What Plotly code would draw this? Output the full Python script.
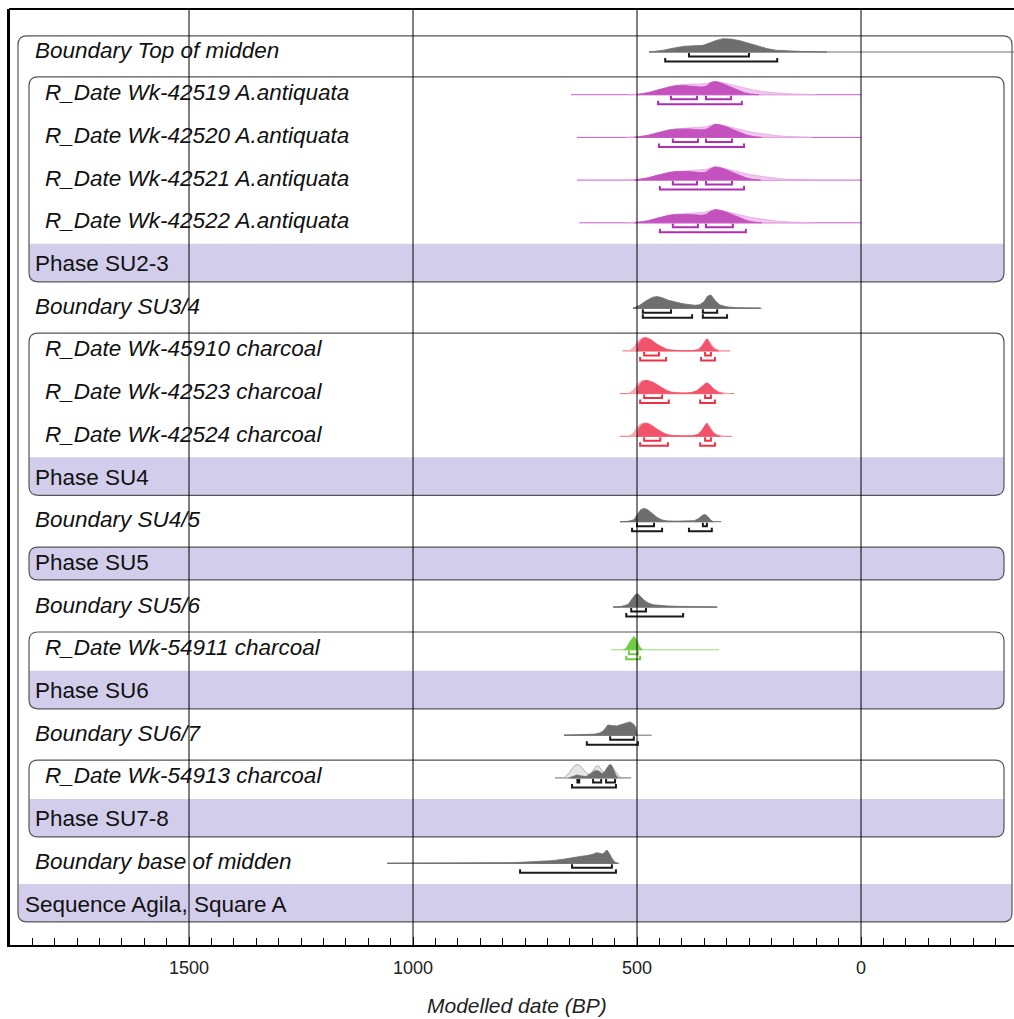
import plotly.graph_objects as go

# ---------------- DATA (dates in years BP, relative densities 0..1) ----------------
row_labels = [
    "Boundary Top of midden",
    "R_Date Wk-42519 A.antiquata",
    "R_Date Wk-42520 A.antiquata",
    "R_Date Wk-42521 A.antiquata",
    "R_Date Wk-42522 A.antiquata",
    "Phase SU2-3",
    "Boundary SU3/4",
    "R_Date Wk-45910 charcoal",
    "R_Date Wk-42523 charcoal",
    "R_Date Wk-42524 charcoal",
    "Phase SU4",
    "Boundary SU4/5",
    "Phase SU5",
    "Boundary SU5/6",
    "R_Date Wk-54911 charcoal",
    "Phase SU6",
    "Boundary SU6/7",
    "R_Date Wk-54913 charcoal",
    "Phase SU7-8",
    "Boundary base of midden",
    "Sequence Agila, Square A",
]
tick_vals = [1500, 1000, 500, 0]
tick_text = ["1500", "1000", "500", "0"]

# Boundary Top of midden
top_line = [473, -342]
top_dates = [473, 455, 440, 425, 410, 395, 380, 365, 353, 340, 325, 308, 290, 270, 250, 230, 210, 190, 160, 130, 100, 76]
top_dens = [0, 0.06, 0.14, 0.25, 0.36, 0.43, 0.46, 0.48, 0.5, 0.65, 0.85, 1.0, 0.97, 0.85, 0.65, 0.45, 0.26, 0.13, 0.07, 0.04, 0.02, 0]
top_r68 = [[384, 250]]
top_r95 = [[437, 187]]

# Purple A.antiquata dates
p1_line = [647, 0]
p1_m_dates = [500, 485, 470, 455, 440, 425, 410, 398, 385, 370, 355, 345, 336, 328, 318, 305, 290, 275, 260, 245, 228]
p1_m_dens = [0, 0.08, 0.2, 0.35, 0.5, 0.62, 0.7, 0.71, 0.66, 0.6, 0.58, 0.65, 0.9, 1.0, 0.95, 0.78, 0.55, 0.32, 0.15, 0.05, 0]
p1_l_dates = [520, 500, 480, 460, 440, 420, 400, 380, 360, 345, 332, 318, 300, 285, 270, 255, 240, 220, 200, 180, 150, 120, 98]
p1_l_dens = [0, 0.03, 0.1, 0.25, 0.45, 0.62, 0.74, 0.8, 0.8, 0.85, 0.95, 0.95, 0.85, 0.72, 0.58, 0.45, 0.35, 0.25, 0.17, 0.11, 0.05, 0.02, 0]
p1_r68 = [[424, 366], [346, 290]]
p1_r95 = [[453, 266]]

p2_line = [634, 0]
p2_m_dates = [505, 490, 475, 460, 445, 430, 415, 400, 385, 370, 355, 345, 335, 326, 315, 300, 285, 270, 255, 240, 222]
p2_m_dens = [0, 0.06, 0.16, 0.3, 0.44, 0.55, 0.62, 0.65, 0.64, 0.6, 0.57, 0.62, 0.85, 1.0, 0.95, 0.8, 0.58, 0.36, 0.18, 0.06, 0]
p2_l_dates = [525, 505, 485, 465, 445, 425, 405, 385, 365, 348, 335, 320, 305, 290, 275, 260, 245, 225, 205, 185, 160, 130, 110]
p2_l_dens = [0, 0.03, 0.1, 0.24, 0.42, 0.57, 0.66, 0.7, 0.72, 0.8, 0.92, 0.96, 0.88, 0.76, 0.62, 0.5, 0.4, 0.3, 0.2, 0.12, 0.06, 0.02, 0]
p2_r68 = [[420, 364], [346, 288]]
p2_r95 = [[451, 261]]

p3_line = [634, 0]
p3_m_dates = [505, 490, 475, 460, 445, 430, 415, 400, 385, 370, 356, 346, 336, 327, 316, 302, 287, 272, 257, 242, 224]
p3_m_dens = [0, 0.06, 0.17, 0.32, 0.46, 0.57, 0.64, 0.66, 0.64, 0.6, 0.56, 0.6, 0.85, 1.0, 0.96, 0.8, 0.58, 0.36, 0.18, 0.06, 0]
p3_l_dates = [525, 505, 485, 465, 445, 425, 405, 385, 365, 348, 335, 320, 305, 290, 275, 260, 245, 225, 205, 185, 160, 130, 110]
p3_l_dens = [0, 0.03, 0.1, 0.25, 0.43, 0.58, 0.67, 0.7, 0.72, 0.8, 0.92, 0.96, 0.88, 0.76, 0.62, 0.5, 0.4, 0.3, 0.2, 0.12, 0.06, 0.02, 0]
p3_r68 = [[420, 366], [346, 288]]
p3_r95 = [[449, 261]]

p4_line = [629, 0]
p4_m_dates = [505, 490, 475, 460, 445, 430, 415, 400, 385, 370, 356, 346, 336, 326, 315, 300, 285, 270, 255, 240, 222]
p4_m_dens = [0, 0.06, 0.16, 0.3, 0.45, 0.56, 0.63, 0.65, 0.63, 0.6, 0.57, 0.62, 0.86, 1.0, 0.95, 0.8, 0.58, 0.36, 0.18, 0.06, 0]
p4_l_dates = [525, 505, 485, 465, 445, 425, 405, 385, 365, 348, 335, 320, 305, 290, 275, 260, 245, 225, 205, 185, 160, 130, 105]
p4_l_dens = [0, 0.03, 0.1, 0.24, 0.42, 0.57, 0.66, 0.7, 0.72, 0.8, 0.92, 0.96, 0.88, 0.76, 0.62, 0.5, 0.4, 0.3, 0.2, 0.12, 0.06, 0.02, 0]
p4_r68 = [[420, 364], [346, 286]]
p4_r95 = [[449, 257]]

# Boundary SU3/4
b34_line = [509, 222]
b34_dates = [509, 495, 480, 465, 455, 445, 430, 415, 400, 385, 370, 360, 350, 343, 335, 325, 315, 300, 280, 250, 225]
b34_dens = [0, 0.2, 0.55, 0.82, 0.88, 0.8, 0.6, 0.45, 0.35, 0.28, 0.22, 0.26, 0.5, 0.9, 1.0, 0.55, 0.25, 0.1, 0.04, 0.01, 0]
b34_r68 = [[487, 424], [353, 321]]
b34_r95 = [[487, 377], [353, 299]]

# Red charcoal dates
r1_line = [533, 292]
r1_m_dates = [500, 496, 490, 482, 475, 466, 456, 446, 436, 425, 410, 390, 372, 362, 355, 348, 344, 339, 333, 326, 318]
r1_m_dens = [0, 0.55, 0.85, 1.0, 0.95, 0.78, 0.52, 0.3, 0.14, 0.05, 0.02, 0.01, 0.02, 0.1, 0.35, 0.75, 0.92, 0.65, 0.3, 0.08, 0]
r1_l_dates = [518, 508, 498, 488, 478, 468, 456, 444, 430, 415, 395, 375, 362, 354, 347, 342, 336, 328, 318, 305]
r1_l_dens = [0, 0.25, 0.75, 1.0, 0.95, 0.78, 0.5, 0.28, 0.12, 0.05, 0.03, 0.04, 0.15, 0.45, 0.8, 0.88, 0.6, 0.25, 0.06, 0]
r1_r68 = [[484, 451], [348, 335]]
r1_r95 = [[493, 435], [357, 326]]

r2_line = [538, 283]
r2_m_dates = [500, 496, 490, 482, 474, 464, 454, 444, 434, 422, 408, 392, 378, 366, 356, 348, 343, 337, 328, 318, 308]
r2_m_dens = [0, 0.55, 0.85, 1.0, 0.97, 0.85, 0.65, 0.42, 0.22, 0.08, 0.03, 0.03, 0.08, 0.22, 0.5, 0.75, 0.82, 0.65, 0.3, 0.08, 0]
r2_l_dates = [520, 508, 498, 488, 478, 466, 454, 440, 426, 410, 392, 378, 366, 356, 348, 340, 330, 318, 305, 292]
r2_l_dens = [0, 0.25, 0.75, 1.0, 0.97, 0.82, 0.6, 0.35, 0.15, 0.06, 0.04, 0.08, 0.22, 0.48, 0.72, 0.7, 0.4, 0.15, 0.04, 0]
r2_r68 = [[484, 444], [348, 335]]
r2_r95 = [[493, 429], [359, 326]]

r3_line = [538, 288]
r3_m_dates = [500, 496, 490, 482, 475, 466, 456, 446, 436, 425, 410, 392, 375, 364, 356, 349, 344, 339, 332, 324, 314]
r3_m_dens = [0, 0.55, 0.85, 1.0, 0.96, 0.8, 0.55, 0.32, 0.15, 0.06, 0.02, 0.02, 0.04, 0.14, 0.4, 0.78, 1.0, 0.72, 0.35, 0.1, 0]
r3_l_dates = [518, 508, 498, 488, 478, 468, 456, 444, 430, 415, 395, 376, 364, 355, 348, 342, 336, 328, 318, 305]
r3_l_dens = [0, 0.25, 0.75, 1.0, 0.96, 0.8, 0.52, 0.3, 0.13, 0.05, 0.03, 0.05, 0.16, 0.45, 0.85, 0.9, 0.62, 0.27, 0.07, 0]
r3_r68 = [[484, 448], [348, 335]]
r3_r95 = [[493, 431], [359, 326]]

# Boundary SU4/5
b45_line = [538, 312]
b45_dates = [538, 520, 507, 500, 492, 485, 477, 467, 455, 444, 432, 412, 392, 372, 362, 354, 348, 342, 336, 330]
b45_dens = [0, 0.03, 0.15, 0.5, 0.9, 1.0, 0.92, 0.65, 0.32, 0.13, 0.06, 0.04, 0.04, 0.08, 0.25, 0.48, 0.55, 0.4, 0.15, 0]
b45_r68 = [[500, 462], [353, 344]]
b45_r95 = [[511, 444], [384, 333]]

# Boundary SU5/6
b56_line = [553, 321]
b56_dates = [553, 535, 520, 512, 505, 500, 494, 486, 476, 464, 450, 430, 400, 370, 340, 321]
b56_dens = [0, 0.05, 0.2, 0.55, 0.9, 1.0, 0.88, 0.58, 0.32, 0.18, 0.12, 0.08, 0.05, 0.03, 0.01, 0]
b56_r68 = [[513, 480]]
b56_r95 = [[524, 397]]

# Green charcoal date
g1_line = [558, 317]
g1_dates = [530, 524, 516, 507, 500, 494, 488]
g1_dens = [0, 0.12, 0.6, 1.0, 0.7, 0.22, 0]
g1_r68 = [[518, 498]]
g1_r95 = [[524, 493]]

# Boundary SU6/7
b67_line = [663, 467]
b67_dates = [663, 620, 595, 585, 576, 570, 565, 555, 545, 535, 525, 516, 508, 503, 500]
b67_dens = [0, 0.03, 0.08, 0.15, 0.3, 0.55, 0.77, 0.72, 0.7, 0.8, 0.92, 1.0, 0.85, 0.6, 0]
b67_r68 = [[560, 507]]
b67_r95 = [[612, 498]]

# Wk-54913 charcoal
k1_line = [683, 513]
k1_l_dates = [662, 652, 644, 638, 633, 626, 618, 610, 603, 596, 590, 584, 578, 572, 566, 561, 557, 552, 546, 540, 532]
k1_l_dens = [0, 0.35, 0.75, 0.95, 1.0, 0.9, 0.55, 0.3, 0.35, 0.7, 0.92, 0.85, 0.5, 0.45, 0.75, 0.98, 0.95, 0.7, 0.35, 0.1, 0]
k1_m_dates = [652, 642, 634, 626, 614, 604, 596, 590, 584, 578, 572, 566, 561, 557, 552, 547, 542]
k1_m_dens = [0, 0.15, 0.22, 0.16, 0.1, 0.3, 0.5, 0.56, 0.48, 0.32, 0.45, 0.8, 1.0, 0.95, 0.6, 0.2, 0]
k1_r68 = [[633, 629], [598, 580], [569, 549]]
k1_r95 = [[645, 547]]

# Boundary base of midden
bb_line = [1058, 540]
bb_dates = [1058, 900, 860, 820, 780, 761, 720, 690, 665, 650, 630, 612, 600, 590, 582, 576, 571, 567, 562, 556, 549, 543]
bb_dens = [0, 0, 0.015, 0.03, 0.05, 0.07, 0.12, 0.2, 0.3, 0.4, 0.5, 0.58, 0.66, 0.8, 0.74, 0.7, 0.88, 1.0, 0.75, 0.38, 0.08, 0]
bb_r68 = [[645, 556]]
bb_r95 = [[761, 547]]

# ---------------- LAYOUT HELPERS ----------------
# body margin is removed by the post script, so page px == figure px
PAGE_OFF = 0
FIG_W, FIG_H = 1014 - PAGE_OFF, 1019 - PAGE_OFF
PL, PT, PB = 9, 9, 945          # plot area edges in page px
PR = 1014
ROW0_PX, ROW_PX = 50.0, 42.7
X_ZERO_PX, PX_PER_YR = 861.0, 0.448


def xd(px):
    return (X_ZERO_PX - px) / PX_PER_YR


def yr(py):
    return (py - ROW0_PX) / ROW_PX


X_RANGE = [xd(PL), xd(PR)]
Y_RANGE = [yr(PB), yr(PT)]

H = 13.3 / ROW_PX          # peak height
BASE = 2.0 / ROW_PX        # baseline offset below row centre
OFF68 = 6.5 / ROW_PX
OFF95 = 11.5 / ROW_PX
TICK = 3.5 / ROW_PX

GREY = "#6e6e6e"
PURPLE = "#c452be"
PURPLE_L = "#f0c6ee"
PURPLE_LINE = "#c85ac8"
PURPLE_BR = "#b02eb0"
RED = "#f1536a"
RED_L = "#f9a9b3"
RED_LINE = "#f36a78"
RED_BR = "#ec3345"
GREEN = "#6fcd45"
GREEN_LINE = "#94e070"
LAVENDER = "#d3cdec"
BOX = "#555555"

fig = go.Figure()


def add_line(xs, row, color, width=1):
    fig.add_trace(go.Scatter(x=xs, y=[row + BASE] * 2, mode="lines",
                             line=dict(color=color, width=width), hoverinfo="skip", showlegend=False))


def add_dist(dates, dens, row, fill, edge=None):
    ys = [row + BASE - d * H for d in dens]
    xs = list(dates) + list(dates)[::-1]
    ys = ys + [row + BASE] * len(dates)
    fig.add_trace(go.Scatter(x=xs, y=ys, mode="lines", fill="toself", fillcolor=fill,
                             line=dict(color=edge or fill, width=0.8),
                             hoverinfo="skip", showlegend=False))


def add_br(ranges, row, off, color):
    xs, ys = [], []
    y = row + off
    for a, b in ranges:
        xs += [a, a, b, b, None]
        ys += [y - TICK, y, y, y - TICK, None]
    fig.add_trace(go.Scatter(x=xs, y=ys, mode="lines", line=dict(color=color, width=2),
                             hoverinfo="skip", showlegend=False))


def plot_entry(row, line, lcolor, dates, dens, fill, r68, r95, brc,
               ldates=None, ldens=None, lfill=None, ledge=None):
    add_line(line, row, lcolor)
    if ldates is not None:
        add_dist(ldates, ldens, row, lfill, ledge)
    add_dist(dates, dens, row, fill)
    add_br(r68, row, OFF68, brc)
    add_br(r95, row, OFF95, brc)


# ---------------- BOXES ----------------
shapes = []


def rpath(l_px, r_px, top_row, bot_row, rad=9, round_top=True):
    t = ROW0_PX + top_row * ROW_PX
    b = ROW0_PX + bot_row * ROW_PX

    def P(px, py):
        return f"{xd(px):.3f},{yr(py):.4f}"
    if round_top:
        s = (f"M{P(l_px + rad, t)} L{P(r_px - rad, t)} Q{P(r_px, t)} {P(r_px, t + rad)} ")
    else:
        s = f"M{P(l_px, t)} L{P(r_px, t)} "
    s += (f"L{P(r_px, b - rad)} Q{P(r_px, b)} {P(r_px - rad, b)} "
          f"L{P(l_px + rad, b)} Q{P(l_px, b)} {P(l_px, b - rad)} ")
    if round_top:
        s += f"L{P(l_px, t + rad)} Q{P(l_px, t)} {P(l_px + rad, t)} Z"
    else:
        s += "Z"
    return s


def band(l_px, r_px, top_row, bot_row, full=False):
    shapes.append(dict(type="path", path=rpath(l_px, r_px, top_row, bot_row, round_top=full),
                       xref="x", yref="y", fillcolor=LAVENDER, line=dict(width=0), layer="below"))


def outline(l_px, r_px, top_row, bot_row):
    shapes.append(dict(type="path", path=rpath(l_px, r_px, top_row, bot_row),
                       xref="x", yref="y", line=dict(color=BOX, width=1.2), layer="below"))


# sequence band and outline
band(18, 1012, 20 - 0.47, 20 + 0.42)
outline(18, 1012, 0 - 0.33, 20 + 0.42)
# phases: (first child row, phase row)
for first, prow in [(1, 5), (7, 10), (14, 15), (17, 18)]:
    band(29, 1004, prow - 0.46, prow + 0.43)
    outline(29, 1004, first - 0.37, prow + 0.43)
band(29, 1004, 12 - 0.36, 12 + 0.41, full=True)
outline(29, 1004, 12 - 0.36, 12 + 0.41)

# gridlines on top
for v in tick_vals:
    shapes.append(dict(type="line", x0=v, x1=v, y0=0, y1=1, xref="x", yref="paper",
                       line=dict(color="black", width=1), layer="above"))
# top and left frame lines
shapes.append(dict(type="line", x0=0, x1=1, y0=1, y1=1, xref="paper", yref="paper",
                   line=dict(color="black", width=2), layer="above"))
shapes.append(dict(type="line", x0=0, x1=0, y0=0, y1=1, xref="paper", yref="paper",
                   line=dict(color="black", width=2), layer="above"))

# ---------------- DISTRIBUTIONS ----------------
plot_entry(0, top_line, GREY, top_dates, top_dens, GREY, top_r68, top_r95, "#1a1a1a")
for row, ln, md, mv, ld, lv, r68, r95 in [
    (1, p1_line, p1_m_dates, p1_m_dens, p1_l_dates, p1_l_dens, p1_r68, p1_r95),
    (2, p2_line, p2_m_dates, p2_m_dens, p2_l_dates, p2_l_dens, p2_r68, p2_r95),
    (3, p3_line, p3_m_dates, p3_m_dens, p3_l_dates, p3_l_dens, p3_r68, p3_r95),
    (4, p4_line, p4_m_dates, p4_m_dens, p4_l_dates, p4_l_dens, p4_r68, p4_r95),
]:
    plot_entry(row, ln, PURPLE_LINE, md, mv, PURPLE, r68, r95, PURPLE_BR, ld, lv, PURPLE_L, "#e6a8e4")
plot_entry(6, b34_line, GREY, b34_dates, b34_dens, GREY, b34_r68, b34_r95, "#1a1a1a")
for row, ln, md, mv, ld, lv, r68, r95 in [
    (7, r1_line, r1_m_dates, r1_m_dens, r1_l_dates, r1_l_dens, r1_r68, r1_r95),
    (8, r2_line, r2_m_dates, r2_m_dens, r2_l_dates, r2_l_dens, r2_r68, r2_r95),
    (9, r3_line, r3_m_dates, r3_m_dens, r3_l_dates, r3_l_dens, r3_r68, r3_r95),
]:
    plot_entry(row, ln, RED_LINE, md, mv, RED, r68, r95, RED_BR, ld, lv, RED_L)
plot_entry(11, b45_line, GREY, b45_dates, b45_dens, GREY, b45_r68, b45_r95, "#1a1a1a")
plot_entry(13, b56_line, GREY, b56_dates, b56_dens, GREY, b56_r68, b56_r95, "#1a1a1a")
plot_entry(14, g1_line, GREEN_LINE, g1_dates, g1_dens, GREEN, g1_r68, g1_r95, GREEN)
plot_entry(16, b67_line, GREY, b67_dates, b67_dens, GREY, b67_r68, b67_r95, "#1a1a1a")
plot_entry(17, k1_line, GREY, k1_m_dates, k1_m_dens, GREY, k1_r68, k1_r95, "#1a1a1a",
           k1_l_dates, k1_l_dens, "rgba(228,228,228,0.95)", "#a0a0a0")
plot_entry(19, bb_line, GREY, bb_dates, bb_dens, GREY, bb_r68, bb_r95, "#1a1a1a")

# ---------------- LABELS ----------------
FONT = "Liberation Sans, Arial, Helvetica, sans-serif"
annotations = []
for i, lab in enumerate(row_labels):
    if lab.startswith("Sequence"):
        px, txt = 25, lab
    elif lab.startswith("Phase"):
        px, txt = 35, lab
    elif lab.startswith("R_Date"):
        px, txt = 45, f"<i>{lab}</i>"
    else:
        px, txt = 35, f"<i>{lab}</i>"
    annotations.append(dict(x=xd(px), y=i, xref="x", yref="y", text=txt, showarrow=False,
                            xanchor="left", yanchor="middle", xshift=-2,
                            font=dict(family=FONT, size=22.5, color="#111")))
annotations.append(dict(x=xd(517), y=(PB - 1005) / (PB - PT), xref="x", yref="paper",
                        text="<i>Modelled date (BP)</i>", showarrow=False,
                        xanchor="center", yanchor="middle",
                        font=dict(family=FONT, size=21, color="#222")))

fig.update_layout(
    width=FIG_W, height=FIG_H,
    margin=dict(l=PL - PAGE_OFF, r=FIG_W - (PR - PAGE_OFF), t=PT - PAGE_OFF, b=FIG_H - (PB - PAGE_OFF)),
    plot_bgcolor="white", paper_bgcolor="white",
    shapes=shapes, annotations=annotations,
    xaxis=dict(range=X_RANGE, tickvals=tick_vals, ticktext=tick_text,
               ticks="inside", ticklen=8, tickcolor="black", tickwidth=1,
               minor=dict(dtick=50, tick0=0, ticks="inside", ticklen=7, tickcolor="black", tickwidth=1),
               showgrid=False, zeroline=False, showline=True, linecolor="black", linewidth=2,
               ticklabelstandoff=5,
               tickfont=dict(family=FONT, size=18, color="#222"), fixedrange=True),
    yaxis=dict(range=Y_RANGE, showticklabels=False, showgrid=False, zeroline=False,
               showline=True, linecolor="black", linewidth=2, ticks="", fixedrange=True),
    showlegend=False,
)

fig.write_html(
    "out.html",
    config={"displayModeBar": False},
    post_script="document.body.style.margin='0';document.body.style.overflow='hidden';",
)
